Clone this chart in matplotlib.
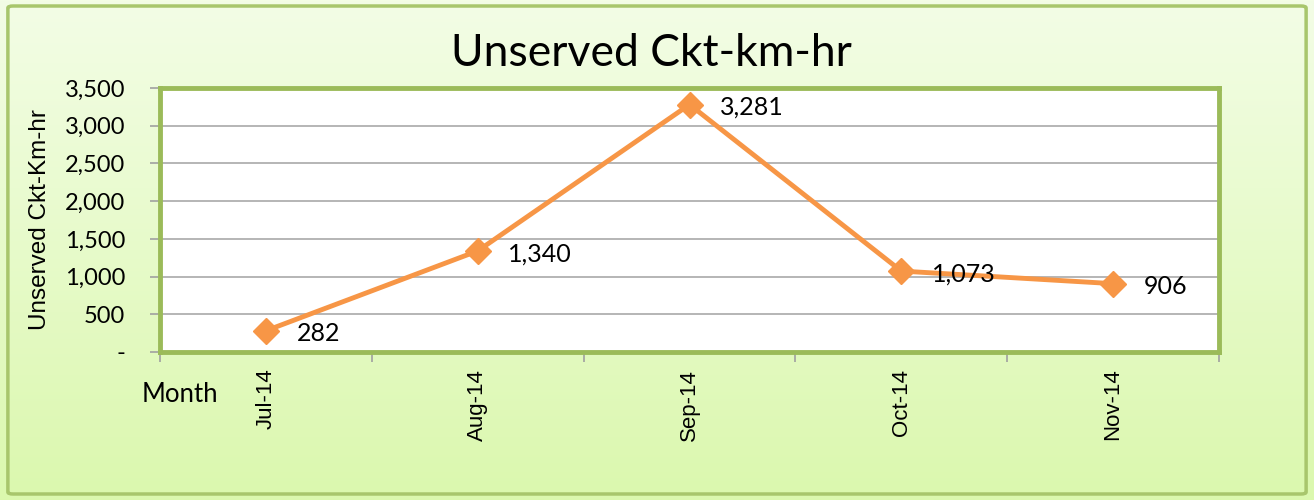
import numpy as np
import matplotlib.pyplot as plt
from matplotlib.patches import FancyBboxPatch
from matplotlib.ticker import FuncFormatter

months = ["Jul-14", "Aug-14", "Sep-14", "Oct-14", "Nov-14"]
values = [282, 1340, 3281, 1073, 906]

fig = plt.figure(figsize=(13.14, 5), dpi=100)

# gradient background
bg = fig.add_axes([0, 0, 1, 1], zorder=-10)
grad = np.linspace(0, 1, 256).reshape(-1, 1)
top = np.array([0xf3, 0xfd, 0xe6]) / 255
bot = np.array([0xdb, 0xf8, 0xae]) / 255
img = top + (bot - top) * grad[:, :, None]
bg.imshow(img, aspect="auto", extent=[0, 1, 0, 1])
bg.add_patch(FancyBboxPatch((0.006, 0.012), 0.988, 0.976, boxstyle="round,pad=0,rounding_size=0.004",
                            transform=bg.transAxes, fill=False, ec="#a8c66c", lw=2.5))
bg.set_xlim(0, 1)
bg.set_ylim(0, 1)
bg.axis("off")

ax = fig.add_axes([0.1218, 0.296, 0.8059, 0.528])
ax.set_facecolor("white")
x = np.arange(len(months))
ax.plot(x, values, color="#f79646", lw=3.5, marker="D", ms=13, zorder=3)
for xi, v in zip(x, values):
    ax.annotate(f"{v:,}", (xi, v), xytext=(22, -2), textcoords="offset points",
                ha="left", va="center", fontsize=18, family="Lato", color="black")

ax.set_xlim(-0.5, len(months) - 0.5)
ax.set_ylim(0, 3500)
ax.set_yticks(np.arange(0, 3501, 500))
ax.yaxis.set_major_formatter(FuncFormatter(lambda v, p: "-" if v == 0 else f"{int(v):,}"))
ax.grid(axis="y", color="#b0b0b0", lw=1.3)
ax.set_axisbelow(True)

ax.set_xticks(x)
ax.set_xticklabels(months, rotation=90, family="Liberation Sans", fontsize=16)
ax.set_xticks(np.arange(-0.5, len(months), 1), minor=True)
ax.tick_params(axis="x", which="major", length=0, pad=12)
ax.tick_params(axis="x", which="minor", length=7, color="#a0a0a0", width=1.2)
ax.tick_params(axis="y", length=7, color="#a0a0a0", width=1.2, pad=18, labelsize=17)
for lab in ax.get_yticklabels():
    lab.set_family("Lato")

for s in ax.spines.values():
    s.set_color("#9bbb59")
    s.set_linewidth(3.5)

ax.set_ylabel("Unserved Ckt-Km-hr", family="Liberation Sans", fontsize=17.5, labelpad=10)
fig.text(0.496, 0.892, "Unserved Ckt-km-hr", ha="center", va="center", fontsize=32, family="Lato")
fig.text(0.108, 0.21, "Month", ha="left", va="center", fontsize=18.5, family="Lato")

fig.savefig("out.png", dpi=100)
